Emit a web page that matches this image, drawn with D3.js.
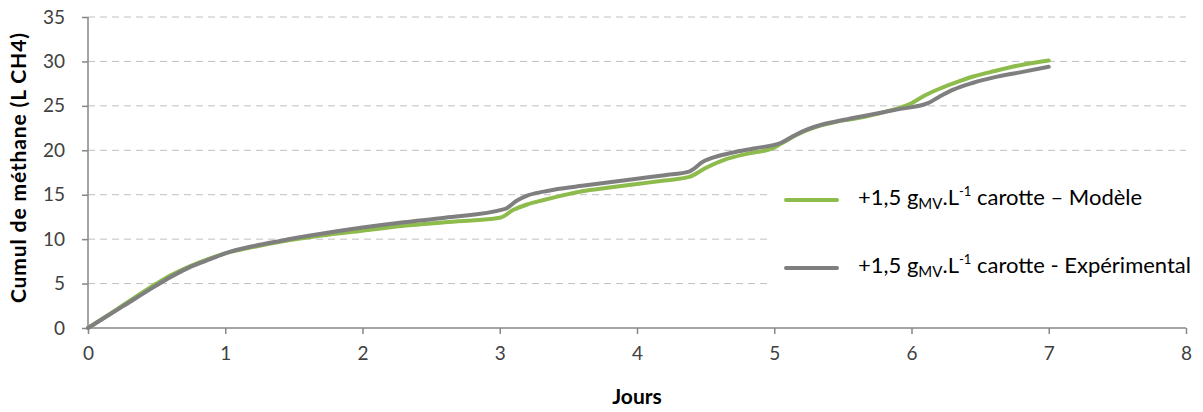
<!DOCTYPE html>
<html>
<head>
<meta charset="utf-8">
<script src="https://cdn.jsdelivr.net/npm/d3@7"></script>
<style>
  html, body { margin: 0; padding: 0; background: #fff; }
  svg { display: block; font-family: Lato, "Open Sans", sans-serif; }
</style>
</head>
<body>
<svg id="chart" width="1203" height="412"></svg>
<script>
// Cumulative methane production (L CH4) versus time (days)
const modelDays = [0, 0.25, 0.5, 0.6, 0.75, 0.9, 1.0, 1.2, 1.4, 1.7, 2.0, 2.3, 2.6, 3.0, 3.1, 3.2, 3.32, 3.45, 3.6, 3.8, 4.0, 4.2, 4.38, 4.5, 4.65, 4.8, 5.0, 5.1, 5.2, 5.3, 5.45, 5.6, 5.8, 6.0, 6.1, 6.2, 6.3, 6.45, 6.6, 6.8, 7.0];
const modelValues = [0, 2.5, 5.0, 5.9, 7.0, 7.9, 8.4, 9.1, 9.7, 10.4, 10.95, 11.5, 11.9, 12.4, 13.3, 13.9, 14.4, 14.9, 15.4, 15.8, 16.2, 16.6, 17.0, 18.0, 19.0, 19.6, 20.3, 21.2, 22.0, 22.6, 23.2, 23.6, 24.3, 25.3, 26.2, 26.9, 27.5, 28.3, 28.9, 29.6, 30.1];

const expDays = [0, 0.25, 0.5, 0.6, 0.75, 0.9, 1.0, 1.2, 1.4, 1.7, 2.0, 2.3, 2.6, 3.04, 3.12, 3.2, 3.32, 3.45, 3.6, 3.8, 4.0, 4.2, 4.38, 4.48, 4.58, 4.7, 4.85, 5.05, 5.15, 5.25, 5.35, 5.5, 5.7, 5.9, 6.12, 6.2, 6.3, 6.45, 6.6, 6.8, 7.0];
const expValues = [0, 2.4, 4.8, 5.7, 6.9, 7.8, 8.4, 9.2, 9.8, 10.6, 11.3, 11.9, 12.4, 13.4, 14.3, 14.9, 15.35, 15.7, 16.0, 16.4, 16.8, 17.2, 17.6, 18.7, 19.3, 19.75, 20.2, 20.85, 21.7, 22.4, 22.9, 23.4, 24.0, 24.6, 25.3, 26.0, 26.8, 27.6, 28.2, 28.8, 29.4];

const xTicks = [0, 1, 2, 3, 4, 5, 6, 7, 8];
const yTicks = [0, 5, 10, 15, 20, 25, 30, 35];

const seriesNames = ["carotte \u2013 Modèle", "carotte - Expérimental"];
const seriesColors = ["#8DBB4C", "#7F7F7F"];

const svg = d3.select("#chart");
const x = d3.scaleLinear().domain([0, 8]).range([88, 1186]);
const y = d3.scaleLinear().domain([0, 35]).range([328, 17]);

const axisColor = "#868686";
const labelColor = "#404040";

// horizontal dashed gridlines
svg.append("g").selectAll("line")
  .data(yTicks.filter(t => t > 0))
  .join("line")
  .attr("x1", x(0)).attr("x2", x(8))
  .attr("y1", d => y(d)).attr("y2", d => y(d))
  .attr("stroke", "#C0C0C0").attr("stroke-width", 1)
  .attr("stroke-dasharray", "7,5");

// y axis
const yAxis = svg.append("g")
  .attr("transform", `translate(${x(0)},0)`)
  .call(d3.axisLeft(y).tickValues(yTicks).tickSize(6).tickPadding(17).tickFormat(d3.format("d")));
// x axis
const xAxis = svg.append("g")
  .attr("transform", `translate(0,${y(0)})`)
  .call(d3.axisBottom(x).tickValues(xTicks).tickSize(6).tickPadding(13).tickFormat(d3.format("d")));

[yAxis, xAxis].forEach(g => {
  g.select(".domain").attr("stroke", axisColor).attr("stroke-width", 1.5);
  g.selectAll(".tick line").attr("stroke", axisColor).attr("stroke-width", 1.5);
  g.selectAll(".tick text").attr("fill", labelColor)
    .style("font-size", "19px").style("font-family", "Lato, 'Open Sans', sans-serif");
});
xAxis.selectAll(".domain").attr("d", `M${x(0)},0H${x(8)}`);
yAxis.selectAll(".domain").attr("d", `M0,${y(0)}V${y(35)}`);

// legend panel background (covers gridlines under the legend)
svg.append("rect")
  .attr("x", 767).attr("y", 160).attr("width", 436).attr("height", 140)
  .attr("fill", "#fff");

// series lines
const line = d3.line().x(d => x(d[0])).y(d => y(d[1])).curve(d3.curveMonotoneX);
const modelData = d3.zip(modelDays, modelValues);
const expData = d3.zip(expDays, expValues);

svg.append("path").datum(modelData)
  .attr("d", line).attr("fill", "none")
  .attr("stroke", seriesColors[0]).attr("stroke-width", 4)
  .attr("stroke-linejoin", "round").attr("stroke-linecap", "round");
svg.append("path").datum(expData)
  .attr("d", line).attr("fill", "none")
  .attr("stroke", seriesColors[1]).attr("stroke-width", 4)
  .attr("stroke-linejoin", "round").attr("stroke-linecap", "round");

// legend
const legendRows = [200, 268];
legendRows.forEach((ly, i) => {
  svg.append("line")
    .attr("x1", 786).attr("x2", 837).attr("y1", ly).attr("y2", ly)
    .attr("stroke", seriesColors[i]).attr("stroke-width", 4)
    .attr("stroke-linecap", "round");
  const t = svg.append("text")
    .attr("x", 858).attr("y", ly + 5)
    .attr("fill", "#000").style("font-size", "22px");
  t.append("tspan").text("+1,5 g");
  t.append("tspan").attr("dy", 4).style("font-size", "15px").text("MV");
  t.append("tspan").attr("dy", -4).text(".L");
  t.append("tspan").attr("dy", -9).style("font-size", "13px").text("-1");
  t.append("tspan").attr("dy", 9).text(" " + seriesNames[i]);
});

// axis titles
svg.append("text")
  .attr("x", 637).attr("y", 404)
  .attr("text-anchor", "middle")
  .attr("fill", "#000").style("font-size", "21px").style("font-weight", "bold")
  .text("Jours");
svg.append("text")
  .attr("transform", "translate(26,168) rotate(-90)")
  .attr("text-anchor", "middle")
  .attr("fill", "#000").style("font-size", "21px").style("font-weight", "bold")
  .attr("textLength", 270).attr("lengthAdjust", "spacing")
  .text("Cumul de méthane (L CH4)");
</script>
</body>
</html>
